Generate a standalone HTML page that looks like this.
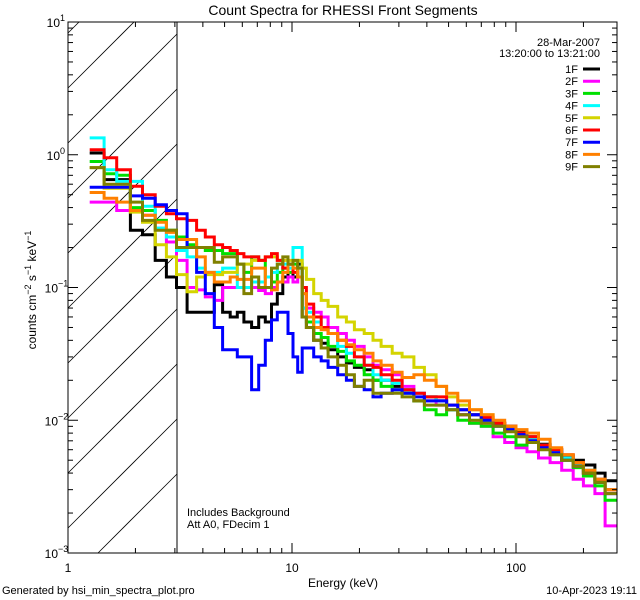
<!DOCTYPE html>
<html><head><meta charset="utf-8"><style>
html,body{margin:0;padding:0;width:640px;height:600px;overflow:hidden;background:#fff}
svg{display:block;font-family:"Liberation Sans",sans-serif}
</style></head><body>
<svg id="chart" width="640" height="600" viewBox="0 0 640 600" xmlns="http://www.w3.org/2000/svg">
<rect x="0" y="0" width="640" height="600" fill="#fff"/>
<defs><clipPath id="pclip"><rect x="68" y="22" width="549" height="531"/></clipPath></defs>
<g id="hatch" stroke="#000" stroke-width="0.8"></g>
<line x1="177" y1="22" x2="177" y2="553" stroke="#000" stroke-width="1"/>
<g id="series" clip-path="url(#pclip)"></g>
<rect x="68" y="22" width="549" height="531" fill="none" stroke="#000" stroke-width="1"/>
<g id="axes" stroke="#000" stroke-width="1"></g>
<g id="labels" font-size="12" fill="#000"></g>
<text x="343" y="15" font-size="14" text-anchor="middle">Count Spectra for RHESSI Front Segments</text>
<text x="600" y="46" font-size="11" text-anchor="end">28-Mar-2007</text>
<text x="600" y="57" font-size="11" text-anchor="end">13:20:00 to 13:21:00</text>
<g id="legend" font-size="11"></g>
<text x="187" y="516" font-size="11">Includes Background</text>
<text x="187" y="528" font-size="11">Att A0, FDecim 1</text>
<text x="343" y="587" font-size="12" text-anchor="middle">Energy (keV)</text>
<text transform="translate(36,290) rotate(-90)" font-size="12" text-anchor="middle">counts cm<tspan dy="-5" font-size="9">−2</tspan><tspan dy="5"> s</tspan><tspan dy="-5" font-size="9">−1</tspan><tspan dy="5"> keV</tspan><tspan dy="-5" font-size="9">−1</tspan></text>
<text x="2" y="594" font-size="11">Generated by hsi_min_spectra_plot.pro</text>
<text x="637" y="594" font-size="11" text-anchor="end">10-Apr-2023 19:11</text>
</svg>
<script>
const energyEdges=[1.25,1.45,1.65,1.9,2.15,2.45,2.75,3.05,3.4,3.75,4.1,4.5,4.9,5.3,5.7,6.1,6.6,7.1,7.6,8.1,8.6,9.1,9.6,10.1,10.6,11.1,11.6,12.5,13.5,14.5,16,17.5,19,21,23,25,28,31,35,39,44,49,55,62,70,79,89,100,112,126,142,160,180,200,225,250,285];
const seriesNames=["1F","2F","3F","4F","5F","6F","7F","8F","9F"];
const seriesColors=["#000000","#ff00ff","#00e000","#00ffff","#d4d400","#ff0000","#0000ff","#ff8000","#808000"];
const s1F=[1.03,0.65,0.65,0.27,0.25,0.16,0.12,0.1,0.065,0.065,0.065,0.105,0.065,0.06,0.065,0.055,0.05,0.06,0.055,0.075,0.09,0.12,0.15,0.12,0.15,0.06, 0.05,0.04,0.038,0.034,0.03,0.027,0.025,0.024,0.02,0.02,0.018,0.017,0.014,0.015,0.014,0.012,0.011,0.011,0.01,0.0095,0.009,0.0082,0.0075,0.0066,0.006,0.0054,0.005,0.0046,0.004,0.0035];
const s2F=[0.44,0.44,0.38,0.38,0.35,0.28,0.22,0.16,0.1,0.096,0.085,0.08,0.1,0.1,0.1,0.1,0.1,0.095,0.09,0.1,0.11,0.11,0.12,0.11,0.12,0.09, 0.07,0.065,0.06,0.05,0.045,0.04,0.036,0.03,0.026,0.024,0.022,0.018,0.016,0.014,0.013,0.012,0.011,0.0095,0.009,0.0075,0.0068,0.0062,0.0058,0.0052,0.0048,0.0042,0.0036,0.0032,0.0028,0.0016];
const s3F=[0.89,0.72,0.7,0.4,0.38,0.32,0.27,0.24,0.21,0.2,0.19,0.19,0.18,0.18,0.15,0.13,0.17,0.16,0.12,0.11,0.13,0.14,0.13,0.15,0.12,0.07, 0.055,0.045,0.042,0.036,0.033,0.028,0.026,0.022,0.02,0.018,0.017,0.016,0.014,0.012,0.011,0.012,0.01,0.0095,0.009,0.008,0.0075,0.0065,0.0068,0.0062,0.0055,0.005,0.0044,0.0038,0.0032,0.0025];
const s4F=[1.34,0.77,0.63,0.63,0.41,0.28,0.24,0.19,0.17,0.14,0.13,0.13,0.14,0.14,0.1,0.1,0.11,0.11,0.12,0.13,0.15,0.15,0.14,0.2,0.2,0.07, 0.065,0.055,0.05,0.045,0.036,0.032,0.03,0.026,0.022,0.02,0.019,0.017,0.016,0.015,0.014,0.012,0.012,0.011,0.01,0.009,0.0085,0.008,0.0072,0.0065,0.0058,0.0052,0.0047,0.0042,0.0036,0.003];
const s5F=[0.8,0.56,0.56,0.37,0.31,0.21,0.17,0.125,0.093,0.12,0.125,0.125,0.13,0.13,0.15,0.15,0.16,0.16,0.17,0.17,0.16,0.16,0.16,0.16,0.16,0.14, 0.115,0.09,0.08,0.072,0.06,0.055,0.048,0.045,0.04,0.036,0.032,0.03,0.025,0.022,0.018,0.015,0.013,0.012,0.011,0.0095,0.0085,0.008,0.007,0.0062,0.0056,0.005,0.0045,0.004,0.0034,0.003];
const s6F=[1.09,0.95,0.77,0.58,0.5,0.41,0.36,0.33,0.32,0.27,0.24,0.21,0.2,0.19,0.18,0.17,0.17,0.16,0.17,0.18,0.16,0.14,0.15,0.13,0.12,0.10, 0.075,0.06,0.05,0.045,0.04,0.036,0.03,0.026,0.025,0.022,0.02,0.017,0.016,0.015,0.015,0.013,0.012,0.011,0.0105,0.0095,0.009,0.008,0.0075,0.0065,0.006,0.0055,0.0048,0.004,0.0036,0.003];
const s7F=[0.57,0.57,0.57,0.49,0.47,0.42,0.38,0.36,0.2,0.13,0.09,0.05,0.034,0.034,0.03,0.03,0.017,0.026,0.04,0.057,0.065,0.065,0.045,0.03,0.023,0.035, 0.035,0.03,0.028,0.025,0.022,0.02,0.018,0.017,0.015,0.016,0.017,0.016,0.015,0.014,0.014,0.013,0.012,0.011,0.01,0.009,0.0085,0.0078,0.007,0.0062,0.0057,0.005,0.0045,0.004,0.0034,0.0028];
const s8F=[0.52,0.47,0.44,0.38,0.35,0.31,0.26,0.23,0.23,0.17,0.13,0.11,0.11,0.12,0.115,0.115,0.14,0.14,0.1,0.096,0.11,0.13,0.15,0.14,0.12,0.09, 0.06,0.05,0.048,0.045,0.04,0.037,0.034,0.032,0.028,0.026,0.023,0.021,0.022,0.02,0.018,0.016,0.014,0.012,0.011,0.01,0.009,0.0085,0.008,0.0072,0.0062,0.0055,0.0048,0.0042,0.0036,0.003];
const s9F=[0.8,0.6,0.6,0.44,0.32,0.27,0.27,0.2,0.2,0.2,0.2,0.155,0.17,0.17,0.15,0.09,0.12,0.1,0.1,0.14,0.15,0.17,0.15,0.16,0.14,0.06, 0.05,0.04,0.035,0.03,0.026,0.022,0.018,0.02,0.016,0.016,0.016,0.015,0.014,0.013,0.013,0.012,0.011,0.01,0.0095,0.009,0.0082,0.0075,0.0068,0.006,0.0055,0.005,0.0045,0.004,0.0034,0.0028];
const seriesValues=[s1F,s2F,s3F,s4F,s5F,s6F,s7F,s8F,s9F];
const xTickValues=[1,10,100];
const xTickLabels=["1","10","100"];
const yTickExps=[1,0,-1,-2,-3];

const NS="http://www.w3.org/2000/svg";
const X0=68,X1=617,Y0=22,Y1=553,XH=177;
function xs(e){return X0+Math.log10(e)*224;}
function ys(v){return Y1-(Math.log10(v)+3)*(Y1-Y0)/4;}
function mk(tag,attrs,parent){const el=document.createElementNS(NS,tag);for(const k in attrs)el.setAttribute(k,attrs[k]);parent.appendChild(el);return el;}

// hatch lines: y = b - (x - X0), clipped to [X0,XH]x[Y0,Y1]
const hatch=document.getElementById('hatch');
for(let k=0;k<13;k++){
  const b=Y1-k*55+30;
  let xa=X0,ya=b;
  if(ya>Y1){xa=X0+(ya-Y1);ya=Y1;}
  let xb=XH,yb=b-(XH-X0);
  if(yb<Y0){xb=X0+(b-Y0);yb=Y0;}
  if(xa>=xb)continue;
  const ln=mk('line',{x1:xa,y1:ya,x2:xb,y2:yb},hatch);
  
  
}

const sg=document.getElementById('series');
seriesValues.forEach((vals,si)=>{
  let d="";
  for(let i=0;i<vals.length;i++){
    const xa=xs(energyEdges[i]),xb=Math.min(X1,xs(energyEdges[i+1])),y=ys(vals[i]);
    d+=(i===0?"M":"L")+xa.toFixed(1)+","+y.toFixed(1)+"L"+xb.toFixed(1)+","+y.toFixed(1);
  }
  const p=mk('path',{d:d,fill:"none",stroke:seriesColors[si],"stroke-width":3},sg);
  
  
});

const ax=document.getElementById('axes');
const lab=document.getElementById('labels');
for(let dec=0;dec<3;dec++){
  for(let m=1;m<10;m++){
    const e=m*Math.pow(10,dec);
    if(e>285)break;
    const x=xs(e);const L=m===1?10:5;
    const t1=mk('line',{x1:x,y1:Y1,x2:x,y2:Y1-L},ax);
    
    
    const t2=mk('line',{x1:x,y1:Y0,x2:x,y2:Y0+L},ax);
    
    
  }
}
xTickValues.forEach((v,i)=>{
  const t=mk('text',{x:xs(v),y:572,"text-anchor":"middle","font-size":12},lab);
  t.textContent=xTickLabels[i];
  
  
});
for(let e=-3;e<1;e++){
  for(let m=1;m<10;m++){
    const v=m*Math.pow(10,e);const y=ys(v);const L=m===1?10:5;
    const t1=mk('line',{x1:X0,y1:y,x2:X0+L,y2:y},ax);
    
    
    const t2=mk('line',{x1:X1,y1:y,x2:X1-L,y2:y},ax);
    
    
  }
}
yTickExps.forEach(e=>{
  const y=ys(Math.pow(10,e));
  const t=mk('text',{x:e<0?58:60,y:y+5,"text-anchor":"end","font-size":12},lab);
  t.textContent="10";
  
  
  const s=mk('text',{x:e<0?58:60,y:y-1,"font-size":9},lab);
  s.textContent=e<0?("−"+(-e)):String(e);
  
  
});

const lg=document.getElementById('legend');
seriesNames.forEach((n,i)=>{
  const y=69+i*12.2;
  const t=mk('text',{x:578,y:y+4,"text-anchor":"end"},lg);
  t.textContent=n;
  
  
  const l=mk('line',{x1:583,y1:y,x2:600,y2:y,stroke:seriesColors[i],"stroke-width":3},lg);
  
  
});
</script>
</body></html>
